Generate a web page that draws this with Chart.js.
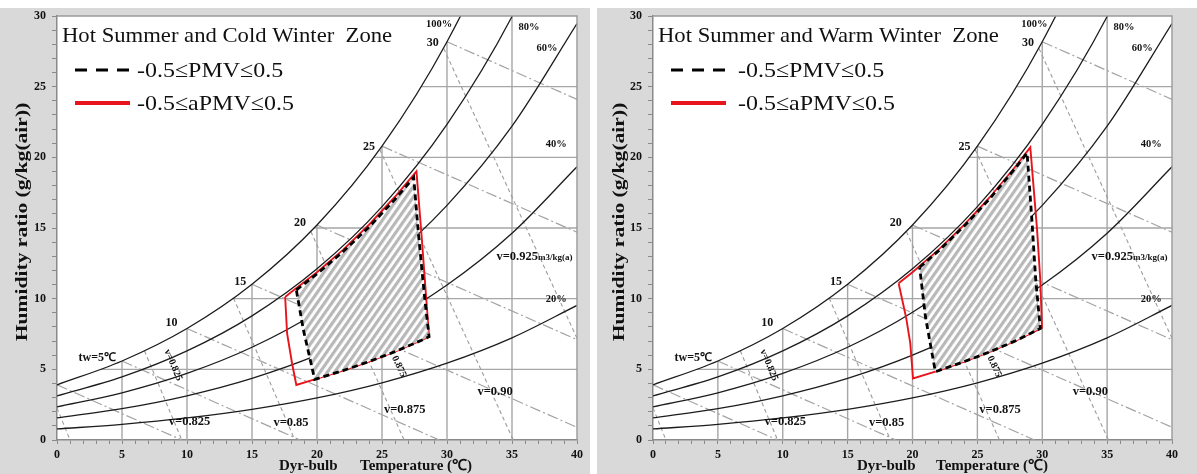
<!DOCTYPE html>
<html lang="en">
<head>
<meta charset="UTF-8">
<title>Psychrometric chart - PMV / aPMV comfort zones</title>
<script src="https://cdn.jsdelivr.net/npm/chart.js"></script>
<style>
    body { margin: 0; background: #fff; width: 1197px; height: 474px; position: relative; overflow: hidden; }
    .panel { position: absolute; top: 8px; height: 466px; background: #d9d9d9; }
    canvas { position: absolute; top: 0; }
</style>
</head>
<body>
<div class="panel" style="left:0;width:590px"></div>
<div class="panel" style="left:597px;width:600px"></div>
<canvas id="chartCold" width="590" height="474" style="left:0"></canvas>
<canvas id="chartWarm" width="600" height="474" style="left:597px"></canvas>
<script>
// --- psychrometric background (g/kg) ---
const dryBulb = [0, 5, 10, 15, 20, 25, 30, 35, 40];
const rh100 = [3.90, 5.59, 7.89, 11.02, 15.21, 20.79, 28.18, 37.90, 50.69];
const rh80  = [3.12, 4.46, 6.30, 8.78, 12.11, 16.51, 22.33, 29.96, 39.90];
const rh60  = [2.34, 3.34, 4.71, 6.56, 9.04, 12.30, 16.60, 22.20, 29.46];
const rh40  = [1.56, 2.22, 3.13, 4.36, 6.00, 8.15, 10.97, 14.63, 19.33];
const rh20  = [0.78, 1.11, 1.56, 2.17, 2.98, 4.05, 5.44, 7.23, 9.52];

// wet-bulb lines (start on saturation, end at bottom / right edge)
const wetBulb = [0, 5, 10, 15, 20, 25, 30];
const wetBulbW = [3.90, 5.59, 7.89, 11.02, 15.21, 20.79, 28.18];
const wetEndT = [9.6, 18.7, 29.4, 40, 40, 40, 40];
const wetEndW = [0, 0, 0, 0.9, 7.1, 14.7, 24.1];

// specific volume lines
const volTopT = [0, 6.73, 13.58, 19.53, 24.83, 29.75];
const volTopW = [2.27, 6.31, 10.04, 14.75, 20.55, 27.7];
const volEndT = [1.0, 9.6, 18.3, 26.7, 35.1, 40];
const volEndW = [0, 0, 0, 0, 0, 7.2];

// grid, cut at the saturation curve
const gridX = [5, 10, 15, 20, 25, 30, 35];
const gridXTop = [5.59, 7.89, 11.02, 15.21, 20.79, 28.18, 30];
const gridY = [5, 10, 15, 20, 25];
const gridYStart = [3.4, 13.5, 19.8, 24.4, 28.0];

// comfort zones: Hot Summer and Cold Winter
const coldPmvT  = [18.41, 20, 22, 24, 26, 27.44, 27.8, 28.3, 28.62, 28, 26, 24, 22, 19.82, 19.4, 18.95, 18.41];
const coldPmvW  = [10.62, 11.75, 13.32, 15.07, 17.03, 18.58, 14.6, 9.9, 7.31, 7.04, 6.25, 5.55, 4.91, 4.29, 6.0, 7.8, 10.62];
const coldApmvT = [17.55, 18, 20, 22, 24, 26, 27.65, 28.03, 28.41, 28.62, 28, 26, 24, 22, 19.82, 18.41, 18.08, 17.7, 17.55];
const coldApmvW = [10.12, 10.45, 11.87, 13.45, 15.23, 17.21, 19.0, 14.63, 9.91, 7.31, 7.04, 6.25, 5.55, 4.91, 4.29, 3.89, 5.43, 7.55, 10.12];

// comfort zones: Hot Summer and Warm Winter
const warmPmvT  = [20.55, 22, 24, 26, 28, 28.83, 29.2, 29.5, 29.85, 28, 26, 24, 22, 21.76, 21.0, 20.55];
const warmPmvW  = [12.22, 13.38, 15.15, 17.12, 19.32, 20.31, 15.6, 11.3, 7.9, 7.04, 6.25, 5.55, 4.91, 4.84, 8.7, 12.22];
const warmApmvT = [18.93, 20, 22, 24, 26, 28, 29.08, 29.6, 29.85, 29.98, 28, 26, 24, 22, 21.76, 20.04, 19.83, 19.52, 18.93];
const warmApmvW = [11.09, 11.87, 13.45, 15.23, 17.21, 19.42, 20.71, 14.9, 11.3, 7.93, 7.04, 6.25, 5.55, 4.91, 4.84, 4.35, 6.84, 8.61, 11.09];

// line labels on the chart
const annoText = ['100%', '30', '80%', '60%', '40%', '25', '20', '15', '10', 'tw=5\u2103', '20%', 'v=0.825', 'v=0.85', 'v=0.875', 'v=0.90'];
const annoT = [29.4, 28.9, 36.3, 37.7, 38.4, 24.0, 18.7, 14.1, 8.8, 3.1, 38.4, 10.2, 18.0, 26.75, 33.7];
const annoW = [29.4, 28.1, 29.2, 27.7, 20.95, 20.76, 15.33, 11.2, 8.3, 5.8, 9.96, 1.3, 1.22, 2.12, 3.42];
const annoSize = [10.5, 12, 10.5, 10.5, 10.5, 12, 12, 12, 12, 12, 10.5, 12.5, 12.5, 12.5, 12.5];

const serif = '"Liberation Serif", "Times New Roman", serif';

function pts(xs, ys) {
    return xs.map((x, i) => ({ x: x, y: ys[i] }));
}

function hatchPattern() {
    const c = document.createElement('canvas');
    c.width = 6; c.height = 6;
    const g = c.getContext('2d');
    g.fillStyle = '#ffffff';
    g.fillRect(0, 0, 6, 6);
    g.fillStyle = '#b8b8b8';
    g.fillRect(0, 0, 3.2, 6);
    const p = g.createPattern(c, 'repeat');
    p.setTransform(new DOMMatrix().rotateSelf(35));
    return p;
}

// text drawn a little wider than the font, like the source figure
function wideText(ctx, s, x, y, sx) {
    ctx.save();
    ctx.translate(x, y);
    ctx.scale(sx, 1);
    ctx.fillText(s, 0, 0);
    ctx.restore();
}

function buildDatasets(pmvT, pmvW, apmvT, apmvW) {
    const line = (data, color, width, dash, smooth) => ({
        data: data, borderColor: color, borderWidth: width, borderDash: dash || [],
        pointRadius: 0, fill: false, tension: 0,
        cubicInterpolationMode: smooth ? 'monotone' : 'default'
    });
    const sets = [];
    sets.push({
        data: pts(pmvT, pmvW), borderColor: '#000', borderWidth: 2.8, borderDash: [6, 4],
        pointRadius: 0, fill: 'shape', backgroundColor: hatchPattern(), tension: 0
    });
    sets.push(line(pts(apmvT, apmvW), '#e8141b', 1.9));
    [rh100, rh80, rh60, rh40, rh20].forEach(c => sets.push(line(pts(dryBulb, c), '#1c1c1c', 1.3, null, true)));
    wetBulb.forEach((t, i) => sets.push(line([{ x: t, y: wetBulbW[i] }, { x: wetEndT[i], y: wetEndW[i] }], '#a3a3a3', 1.2, [11, 3, 2, 3])));
    volTopT.forEach((t, i) => sets.push(line([{ x: t, y: volTopW[i] }, { x: volEndT[i], y: volEndW[i] }], '#9c9c9c', 1.1, [4, 3])));
    gridX.forEach((x, i) => sets.push(line([{ x: x, y: 0 }, { x: x, y: gridXTop[i] }], '#a6a6a6', 1.4)));
    gridY.forEach((y, i) => sets.push(line([{ x: gridYStart[i], y: y }, { x: 40, y: y }], '#a6a6a6', 1.4)));
    return sets;
}

const panelDeco = {
    id: 'panelDeco',
    beforeDraw(chart) {
        const { ctx, chartArea: a } = chart;
        ctx.save();
        ctx.fillStyle = '#fff';
        ctx.fillRect(a.left, a.top, a.right - a.left, a.bottom - a.top);
        ctx.restore();
    },
    afterDraw(chart, args, opts) {
        const { ctx, chartArea: a, scales } = chart;
        const px = t => scales.x.getPixelForValue(t);
        const py = w => scales.y.getPixelForValue(w);
        ctx.save();
        // top / right frame
        ctx.strokeStyle = '#9a9a9a';
        ctx.lineWidth = 1.4;
        ctx.beginPath();
        ctx.moveTo(a.left, a.top); ctx.lineTo(a.right, a.top); ctx.lineTo(a.right, a.bottom);
        ctx.stroke();

        ctx.fillStyle = '#111';
        // zone title + legend
        ctx.textBaseline = 'alphabetic';
        ctx.textAlign = 'left';
        ctx.font = '22px ' + serif;
        wideText(ctx, opts.title, a.left + 5, a.top + 26, 1.03);
        ctx.textBaseline = 'middle';
        ctx.strokeStyle = '#000';
        ctx.lineWidth = 3;
        ctx.setLineDash([12, 9]);
        ctx.beginPath(); ctx.moveTo(a.left + 18, a.top + 54); ctx.lineTo(a.left + 73, a.top + 54); ctx.stroke();
        ctx.setLineDash([]);
        ctx.strokeStyle = '#e8141b';
        ctx.lineWidth = 4;
        ctx.beginPath(); ctx.moveTo(a.left + 18, a.top + 87); ctx.lineTo(a.left + 73, a.top + 87); ctx.stroke();
        wideText(ctx, '-0.5\u2264PMV\u22640.5', a.left + opts.legX, a.top + 55, 1.09);
        wideText(ctx, '-0.5\u2264aPMV\u22640.5', a.left + opts.legX, a.top + 88, 1.09);

        // line labels
        ctx.textAlign = 'center';
        annoText.forEach((s, i) => {
            ctx.font = 'bold ' + annoSize[i] + 'px ' + serif;
            ctx.fillText(s, px(annoT[i]), py(annoW[i]));
        });
        ctx.textAlign = 'left';
        ctx.font = 'bold 12.5px ' + serif;
        const vx = px(33.8), vy = py(13.0);
        ctx.fillText('v=0.925', vx, vy);
        const vw = ctx.measureText('v=0.925').width;
        ctx.font = 'bold 9px ' + serif;
        ctx.fillText('m3/kg(a)', vx + vw, vy + 1);
        [['v=0.825', 8.93, 5.3, 67], ['0.875', 26.3, 5.2, 65]].forEach(r => {
            ctx.save();
            ctx.translate(px(r[1]), py(r[2]));
            ctx.rotate(r[3] * Math.PI / 180);
            ctx.textAlign = 'center';
            ctx.font = 'bold 10px ' + serif;
            ctx.fillText(r[0], 0, 0);
            ctx.restore();
        });

        // axis titles
        ctx.font = 'bold 17px ' + serif;
        ctx.save();
        ctx.translate(opts.yTitleX, 222);
        ctx.rotate(-Math.PI / 2);
        ctx.scale(1.27, 1);
        ctx.textAlign = 'center';
        ctx.fillText('Humidity ratio (g/kg(air))', 0, 0);
        ctx.restore();
        ctx.font = 'bold 15px ' + serif;
        ctx.textAlign = 'left';
        ctx.fillText('Dyr-bulb', a.left + opts.xTitle1, 466);
        ctx.fillText('Temperature (\u2103)', a.left + opts.xTitle2, 466);
        ctx.restore();
    }
};

function makeChart(id, cfg) {
    const tickFont = { family: serif, weight: 'bold', size: 12 };
    return new Chart(document.getElementById(id), {
        type: 'line',
        data: { datasets: buildDatasets(cfg.pmvT, cfg.pmvW, cfg.apmvT, cfg.apmvW) },
        options: {
            responsive: false,
            animation: false,
            events: [],
            layout: { padding: { top: 16, right: cfg.padRight, left: 0, bottom: 0 } },
            scales: {
                x: {
                    type: 'linear', min: 0, max: 40,
                    afterFit: s => { s.height = 34; },
                    grid: { drawOnChartArea: false, tickLength: 4, color: '#8a8a8a' },
                    border: { color: '#8a8a8a', width: 1.5 },
                    ticks: { stepSize: 1, autoSkip: false, maxRotation: 0, padding: 4, color: '#111', font: tickFont,
                             callback: v => (v % 5 === 0 ? v : '') }
                },
                y: {
                    type: 'linear', min: 0, max: 30,
                    afterFit: s => { s.width = cfg.yWidth; },
                    grid: { drawOnChartArea: false, tickLength: 5, color: '#8a8a8a' },
                    border: { color: '#8a8a8a', width: 1.5 },
                    ticks: { stepSize: 1, autoSkip: false, padding: 6, color: '#111', font: tickFont,
                             callback: v => (v % 5 === 0 ? v : '') }
                }
            },
            plugins: {
                legend: { display: false },
                tooltip: { enabled: false },
                filler: { drawTime: 'beforeDatasetDraw' },
                panelDeco: { title: cfg.title, yTitleX: cfg.yTitleX, xTitle1: cfg.xTitle1, xTitle2: cfg.xTitle2, legX: cfg.legX }
            }
        },
        plugins: [panelDeco]
    });
}

makeChart('chartCold', {
    title: 'Hot Summer and Cold Winter  Zone', pmvT: coldPmvT, pmvW: coldPmvW, apmvT: coldApmvT, apmvW: coldApmvW,
    yWidth: 57, padRight: 13, yTitleX: 23, xTitle1: 222, xTitle2: 303, legX: 80
});
makeChart('chartWarm', {
    title: 'Hot Summer and Warm Winter  Zone', pmvT: warmPmvT, pmvW: warmPmvW, apmvT: warmApmvT, apmvW: warmApmvW,
    yWidth: 56, padRight: 25, yTitleX: 23, xTitle1: 204, xTitle2: 283, legX: 85
});
</script>
</body>
</html>
